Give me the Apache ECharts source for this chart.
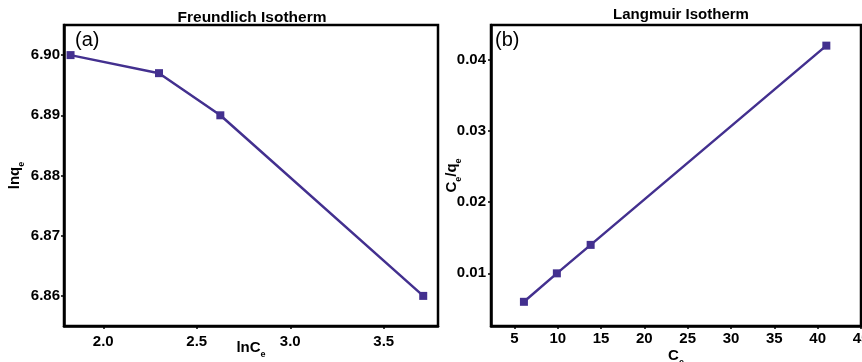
<!DOCTYPE html>
<html><head><meta charset="utf-8">
<script src="https://cdn.jsdelivr.net/npm/echarts@6/dist/echarts.min.js"></script>
<style>html,body{margin:0;padding:0;background:#fff}#c{width:862px;height:362px}</style>
</head><body><div id="c"></div>
<script>
// Freundlich (a)
const lnCe = [1.825, 2.298, 2.626, 3.711];
const lnqe = [6.900, 6.897, 6.890, 6.860];
const freundXTicks = [2.0, 2.5, 3.0, 3.5];
const freundYTicks = [6.86, 6.87, 6.88, 6.89, 6.90];
// Langmuir (b)
const Ce = [6.1, 9.9, 13.8, 41.0];
const Ceqe = [0.006, 0.010, 0.014, 0.042];
const langXTicks = [5, 10, 15, 20, 25, 30, 35, 40, 45];
const langYTicks = [0.01, 0.02, 0.03, 0.04];

const FONT = 'Liberation Sans';
const COLOR = '#43308f';
const chart = echarts.init(document.getElementById('c'), null, {renderer: 'canvas'});

const rich = {
  b: {fontFamily: FONT, fontWeight: 'bold', fontSize: 15, color: '#000'},
  s: {fontFamily: FONT, fontWeight: 'bold', fontSize: 9, color: '#000', verticalAlign: 'bottom', padding: [0,0,-4,0]}
};
const lbl = (fmt, margin) => ({fontFamily: FONT, fontWeight: 'bold', fontSize: 15, color: '#000', margin, formatter: fmt});
const axisLine = {show: true, lineStyle: {color: '#000', width: 2.5}};
const axisTick = (vals) => ({show: true, length: 3, lineStyle: {color: '#000', width: 1.5}, customValues: vals});

chart.setOption({
  animation: false,
  title: [
    {text: 'Freundlich Isotherm', left: 252, top: 10, padding: 0, textAlign: 'center',
     textStyle: {fontFamily: FONT, fontWeight: 'bold', fontSize: 15.5, color: '#000'}},
    {text: 'Langmuir Isotherm', left: 681, top: 7, padding: 0, textAlign: 'center',
     textStyle: {fontFamily: FONT, fontWeight: 'bold', fontSize: 15, color: '#000'}},
    {text: '(a)', left: 75, top: 30, padding: 0, textStyle: {fontFamily: FONT, fontWeight: 'normal', fontSize: 20, color: '#000'}},
    {text: '(b)', left: 495, top: 30, padding: 0, textStyle: {fontFamily: FONT, fontWeight: 'normal', fontSize: 20, color: '#000'}}
  ],
  grid: [
    {left: 64, top: 25, width: 374, height: 301, outerBoundsMode: 'none', containLabel: false,
     show: true, borderColor: '#000', borderWidth: 2.5, backgroundColor: 'transparent'},
    {left: 491, top: 25, width: 370, height: 301, outerBoundsMode: 'none', containLabel: false,
     show: true, borderColor: '#000', borderWidth: 2.5, backgroundColor: 'transparent'}
  ],
  xAxis: [
    {type: 'value', gridIndex: 0, min: 1.79, max: 3.79, splitLine: {show: false},
     axisLine, axisTick: axisTick(freundXTicks),
     axisLabel: Object.assign(lbl(v => v.toFixed(1), 8), {customValues: freundXTicks}),
     name: '{b|lnC}{s|e}', nameLocation: 'middle', nameGap: 14, nameMoveOverlap: false, nameTextStyle: {rich, verticalAlign: 'top'}},
    {type: 'value', gridIndex: 1, min: 2.3, max: 45, splitLine: {show: false},
     axisLine, axisTick: axisTick(langXTicks),
     axisLabel: Object.assign(lbl(v => String(Math.round(v)), 5), {customValues: langXTicks}),
     name: '{b|C}{s|e}', nameLocation: 'middle', nameGap: 22, nameMoveOverlap: false, nameTextStyle: {rich, verticalAlign: 'top'}}
  ],
  yAxis: [
    {type: 'value', gridIndex: 0, min: 6.855, max: 6.905, splitLine: {show: false},
     axisLine, axisTick: axisTick(freundYTicks),
     axisLabel: Object.assign(lbl(v => v.toFixed(2), 4), {customValues: freundYTicks}),
     name: '{b|lnq}{s|e}', nameLocation: 'middle', nameGap: 42, nameMoveOverlap: false, nameTextStyle: {rich}},
    {type: 'value', gridIndex: 1, min: 0.0026, max: 0.0449, splitLine: {show: false},
     axisLine, axisTick: axisTick(langYTicks),
     axisLabel: Object.assign(lbl(v => v.toFixed(2), 5), {customValues: langYTicks}),
     name: '{b|C}{s|e}{b|/q}{s|e}', nameLocation: 'middle', nameGap: 32, nameMoveOverlap: false, nameTextStyle: {rich}}
  ],
  series: [
    {type: 'line', xAxisIndex: 0, yAxisIndex: 0, data: lnCe.map((x, i) => [x, lnqe[i]]),
     symbol: 'rect', symbolSize: 8, lineStyle: {color: COLOR, width: 2.5}, itemStyle: {color: COLOR}},
    {type: 'line', xAxisIndex: 1, yAxisIndex: 1, data: Ce.map((x, i) => [x, Ceqe[i]]),
     symbol: 'rect', symbolSize: 8, lineStyle: {color: COLOR, width: 2.5}, itemStyle: {color: COLOR}}
  ]
});
</script></body></html>
